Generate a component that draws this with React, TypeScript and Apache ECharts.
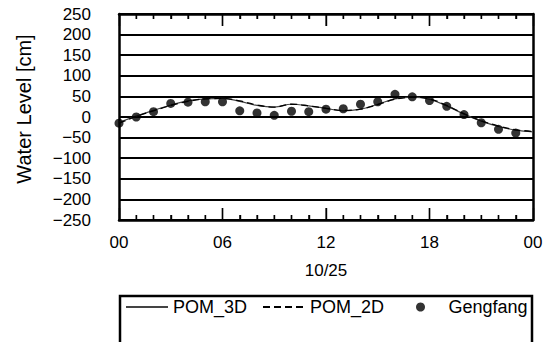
import React, { useEffect, useRef } from "react";
import * as echarts from "echarts";

const obsHours = [0, 1, 2, 3, 4, 5, 6, 7, 8, 9, 10, 11, 12, 13, 14, 15, 16, 17, 18, 19, 20, 21, 22, 23];
const gengfang = [-15, 0, 13, 33, 36, 37, 37, 15, 10, 4, 14, 13, 19, 20, 31, 37, 55, 49, 40, 26, 6, -14, -30, -39];

const modelHours = [0, 1, 2, 3, 4, 5, 6, 7, 8, 9, 10, 11, 12, 13, 14, 15, 16, 17, 18, 19, 20, 21, 22, 23, 24];
const pom3d = [-13, 2, 16, 29, 39, 44, 45, 38, 28, 24, 31, 27, 21, 15, 19, 31, 44, 48, 43, 27, 7, -10, -23, -32, -36];
const pom2d = [-15, 1, 15, 28, 38, 44, 45, 39, 29, 24, 31, 27, 21, 16, 19, 30, 43, 48, 44, 28, 8, -9, -22, -31, -35];

const tickHours = [1, 2, 3, 4, 5, 6, 7, 8, 9, 10, 11, 12, 13, 14, 15, 16, 17, 18, 19, 20, 21, 22, 23];
const xTickLabels = ["00", "06", "12", "18", "00"];
const dateLabel = "10/25";
const yTitle = "Water Level [cm]";
const legendNames = ["POM_3D", "POM_2D", "Gengfang"];

const FONT = "'Liberation Sans', Arial, Helvetica, sans-serif";
const Y_MIN = -250;
const Y_MAX = 250;
const MAJOR_LEN = 12;
const MINOR_LEN = 5;
const TICK_W = 1.4;

export default function App() {
  const ref = useRef<HTMLDivElement>(null);
  useEffect(() => {
    if (!ref.current) return;
    const chart = echarts.init(ref.current, null, { renderer: "svg" });
    const pair = (xs: number[], ys: number[]) => xs.map((x, i) => [x, ys[i]]);

    const tickData: any[] = [];
    tickHours.forEach((h) => {
      const len = h % 6 === 0 ? MAJOR_LEN : MINOR_LEN;
      tickData.push({ value: [h, Y_MIN], symbolSize: [TICK_W, len], symbolOffset: [0, -len / 2] });
      tickData.push({ value: [h, Y_MAX], symbolSize: [TICK_W, len], symbolOffset: [0, len / 2] });
    });

    const legendBase = {
      top: 298,
      padding: 0,
      itemWidth: 42,
      itemHeight: 10,
      itemGap: 0,
      textStyle: { color: "#000", fontSize: 18, fontFamily: FONT },
    };
    const yLabelFmt = (v: number) => (v < 0 ? "\u2212" + Math.abs(v) : String(v));

    chart.setOption({
      animation: false,
      backgroundColor: "#fff",
      grid: { left: 119, right: 18, top: 14, bottom: 122 },
      xAxis: [
        {
          type: "value",
          position: "bottom",
          min: 0,
          max: 24,
          interval: 6,
          axisLine: { show: true, onZero: false, lineStyle: { color: "#000", width: 2.5 } },
          splitLine: { show: false },
          axisTick: { show: true, inside: true, length: MAJOR_LEN, lineStyle: { color: "#000", width: TICK_W } },
          minorTick: { show: true, splitNumber: 6, length: MINOR_LEN, lineStyle: { color: "#000", width: TICK_W } },
          axisLabel: {
            show: true,
            margin: 14,
            color: "#000",
            fontSize: 17,
            fontFamily: FONT,
            formatter: (v: number) => xTickLabels[Math.round(v / 6)],
          },
          name: dateLabel,
          nameLocation: "middle",
          nameGap: 42,
          nameTextStyle: { color: "#000", fontSize: 17, fontFamily: FONT },
        },
        {
          type: "value",
          position: "top",
          min: 0,
          max: 24,
          interval: 6,
          axisLine: { show: true, onZero: false, lineStyle: { color: "#000", width: 2.5 } },
          splitLine: { show: false },
          axisTick: { show: true, inside: true, length: MAJOR_LEN, lineStyle: { color: "#000", width: TICK_W } },
          minorTick: { show: true, splitNumber: 6, length: MINOR_LEN, lineStyle: { color: "#000", width: TICK_W } },
          axisLabel: { show: false },
        },
      ],
      yAxis: [
        {
          type: "value",
          position: "left",
          min: Y_MIN,
          max: Y_MAX,
          interval: 50,
          axisLine: { show: true, onZero: false, lineStyle: { color: "#000", width: 2.5 } },
          axisTick: { show: false },
          splitLine: { show: true, lineStyle: { color: "#000", width: 2 } },
          axisLabel: { color: "#000", fontSize: 17, fontFamily: FONT, margin: 28, formatter: yLabelFmt },
        },
        {
          type: "value",
          position: "right",
          min: Y_MIN,
          max: Y_MAX,
          interval: 50,
          axisLine: { show: true, onZero: false, lineStyle: { color: "#000", width: 2.5 } },
          axisTick: { show: false },
          splitLine: { show: false },
          axisLabel: { show: false },
        },
      ],
      legend: [
        {
          ...legendBase,
          left: 125,
          data: [{ name: legendNames[0], itemStyle: { opacity: 0 } }],
        },
        {
          ...legendBase,
          left: 262,
          data: [{ name: legendNames[1], itemStyle: { opacity: 0 } }],
        },
        {
          ...legendBase,
          left: 416,
          itemHeight: 9,
          data: [{ name: legendNames[2], icon: "circle" }],
          textStyle: { ...legendBase.textStyle, padding: [0, 0, 0, 2] },
        },
      ],
      graphic: [
        {
          type: "rect",
          shape: { x: 120, y: 296, width: 412, height: 120 },
          style: { fill: "none", stroke: "#000", lineWidth: 2.5 },
          z: 100,
        },
        {
          type: "text",
          x: 24,
          y: 109,
          rotation: Math.PI / 2,
          style: {
            text: yTitle,
            fill: "#000",
            font: `20px ${FONT}`,
            textAlign: "center",
            textVerticalAlign: "middle",
          },
        },
      ],
      series: [
        {
          name: legendNames[0],
          type: "line",
          data: pair(modelHours, pom3d),
          smooth: 0.4,
          symbol: "none",
          lineStyle: { color: "#444", width: 1.2, type: "solid" },
          itemStyle: { color: "#444" },
          z: 3,
        },
        {
          name: legendNames[1],
          type: "line",
          data: pair(modelHours, pom2d),
          smooth: 0.4,
          symbol: "none",
          lineStyle: { color: "#000", width: 1.3, type: [7, 4] },
          itemStyle: { color: "#000" },
          z: 4,
        },
        {
          name: legendNames[2],
          type: "scatter",
          data: pair(obsHours, gengfang),
          symbol: "circle",
          symbolSize: 9,
          itemStyle: { color: "#000" },
          z: 5,
        },
        {
          name: "hourTicks",
          type: "scatter",
          data: tickData,
          symbol: "rect",
          symbolKeepAspect: false,
          itemStyle: { color: "#000" },
          clip: false,
          silent: true,
          z: 6,
        },
      ],
    });
    return () => chart.dispose();
  }, []);
  return <div ref={ref} style={{ width: 551, height: 342, position: "absolute", left: 0, top: 0 }} />;
}
